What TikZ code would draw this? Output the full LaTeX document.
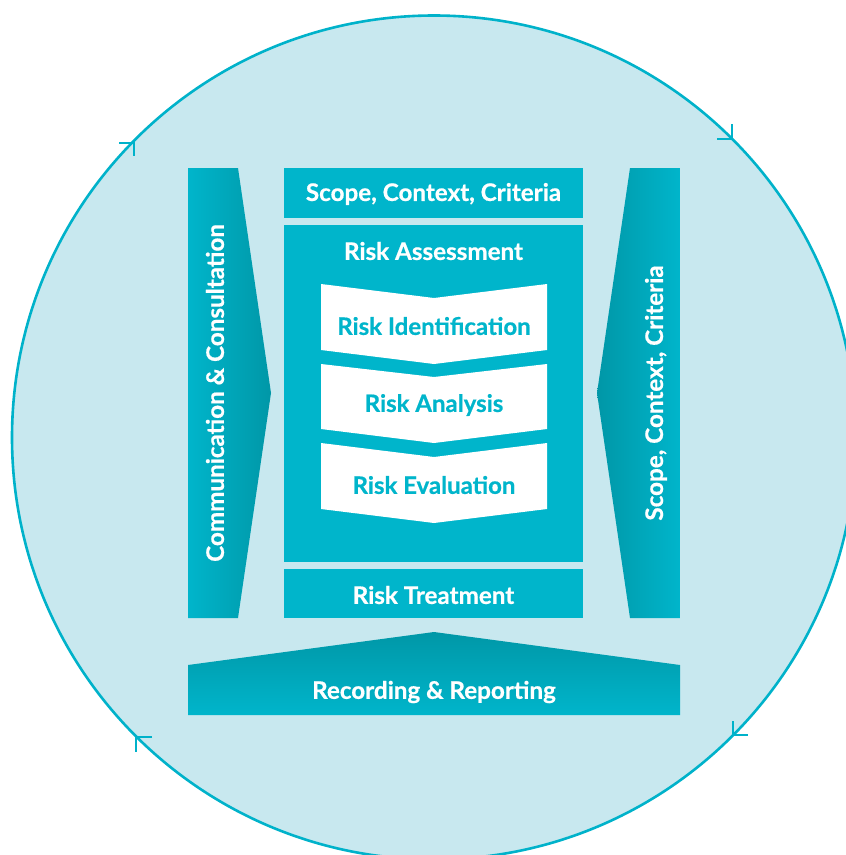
\documentclass[tikz,border=0pt]{standalone}
\usepackage{fontspec}
\setmainfont{Lato}[BoldFeatures={FakeBold=0.6}]
\definecolor{circfill}{HTML}{C8E8EF}
\definecolor{ring}{HTML}{00B2CA}
\definecolor{boxc}{HTML}{00B5CB}
\definecolor{darkc}{HTML}{0097A7}
\begin{document}
\begin{tikzpicture}[x=1pt,y=-1pt,
  box/.style={fill=boxc, draw=none, minimum width=299pt, inner sep=0pt},
  wtext/.style={text=white, font=\bfseries\fontsize{24.2}{28}\selectfont, inner sep=0pt},
  ctext/.style={text=boxc, font=\bfseries\fontsize{24}{28}\selectfont, inner sep=0pt},
  chev/.style={fill=white, draw=none},
  arm/.style={draw=ring, line width=2.8pt},
  ringline/.style={draw=ring, fill=circfill, line width=2.6pt}]
\useasboundingbox (0,0) rectangle (846,855);
\begin{scope}
  \clip (0,0) rectangle (846,855);
  \draw[ringline] (434,437.5) circle[radius=422];
\end{scope}
% circular arrowheads (clockwise)
\coordinate (a1) at (134,143);
\coordinate (a2) at (732,139);
\coordinate (a3) at (733,735);
\coordinate (a4) at (136,737);
\draw[arm] (a1) ++(-15,0) -- (a1) -- ++(0,13);
\draw[arm] (a2) ++(-15,0) -- (a2) -- ++(0,-15);
\draw[arm] (a3) ++(15,0) -- (a3) -- ++(0,-14);
\draw[arm] (a4) ++(16,0) -- (a4) -- ++(0,15);

% side arrows
\path[left color=boxc, right color=darkc] (188,168) -- (238,168) -- (271,393) -- (238,618) -- (188,618) -- cycle;
\node[wtext, rotate=90] (comm) at (215,393) {Communication \& Consultation};
\path[left color=darkc, right color=boxc] (630,168) -- (680,168) -- (680,618) -- (630,618) -- (597,393) -- cycle;
\node[wtext, rotate=90] (scopeR) at (656,393) {Scope, Context, Criteria};
% bottom
\path[top color=darkc, bottom color=boxc] (188,665) -- (434,632) -- (680,665) -- (680,715) -- (188,715) -- cycle;
\node[wtext] (rec) at (434,692) {Recording \& Reporting};

% central boxes
\node[box, minimum height=50pt] (scope) at (433.5,193) {};
\node[wtext] (scopeT) at (433.5,194) {Scope, Context, Criteria};
\node[box, minimum height=337pt] (assess) at (433.5,393.5) {};
\node[wtext] (assessT) at (433.5,251) {Risk Assessment};
\node[box, minimum height=49pt] (treat) at (433.5,593.5) {};
\node[wtext] (treatT) at (433.5,595) {Risk Treatment};

% chevrons
\path[chev] (321,284) -- (434,298) -- (547,284) -- (547,350) -- (434,364) -- (321,350) -- cycle;
\node[ctext] (ident) at (434,326) {Risk Identification};
\path[chev] (321,364) -- (434,377) -- (547,364) -- (547,429) -- (434,443) -- (321,429) -- cycle;
\node[ctext] (anal) at (434,405) {Risk Analysis};
\path[chev] (321,443) -- (434,457) -- (547,443) -- (547,509) -- (434,523) -- (321,509) -- cycle;
\node[ctext] (eval) at (434,485) {Risk Evaluation};
\end{tikzpicture}
\end{document}
